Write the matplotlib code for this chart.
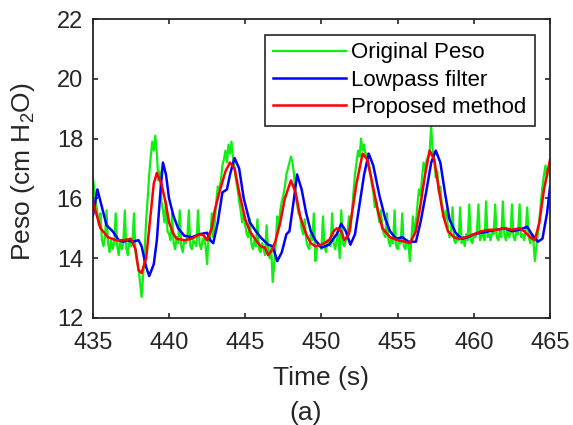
from matplotlib import pyplot as plt
import numpy as np

# Original Peso, sampled every 0.1 s from 435.0 s (one row per second)
green_start = 435.0
green_vals = [
    16.7, 16.3, 15.9, 15.5, 15.1, 15.5, 14.6, 14.4, 14.7, 15.6,  # 435
    14.5, 14.2, 14.6, 14.3, 14.5, 15.5, 14.4, 14.1, 14.6, 14.3,  # 436
    14.5, 15.6, 14.3, 14.1, 14.6, 14.4, 14.5, 15.5, 14.2, 13.9,  # 437
    13.6, 13.2, 12.7, 13.4, 14.2, 15.3, 16.0, 16.8, 17.4, 17.9,  # 438
    17.6, 18.1, 17.5, 16.6, 16.9, 15.9, 15.6, 15.2, 15.9, 14.9,  # 439
    14.8, 14.6, 15.5, 14.5, 14.3, 14.7, 14.5, 15.6, 14.4, 14.2,  # 440
    14.6, 14.5, 14.7, 15.6, 14.4, 14.3, 14.6, 14.5, 14.4, 15.6,  # 441
    14.5, 14.3, 14.6, 14.7, 14.4, 13.8, 14.8, 14.6, 15.5, 14.7,  # 442
    15.2, 15.9, 16.4, 16.3, 16.6, 17.1, 17.3, 17.6, 17.2, 17.8,  # 443
    17.5, 17.9, 17.3, 17.0, 16.6, 16.3, 15.9, 15.6, 15.2, 15.5,  # 444
    15.1, 14.8, 14.7, 15.3, 14.5, 14.3, 14.6, 14.4, 15.3, 14.3,  # 445
    14.2, 14.5, 14.3, 14.1, 15.1, 14.3, 14.0, 14.4, 13.2, 13.8,  # 446
    14.5, 15.4, 15.0, 15.6, 15.9, 16.1, 16.4, 16.8, 17.0, 17.2,  # 447
    17.4, 17.2, 16.8, 16.2, 15.8, 15.5, 15.4, 15.0, 14.8, 15.3,  # 448
    14.6, 14.4, 14.3, 14.8, 14.6, 15.5, 13.9, 14.3, 14.5, 14.4,  # 449
    14.3, 15.4, 14.4, 14.2, 14.6, 14.5, 14.4, 15.5, 14.5, 14.3,  # 450
    14.6, 14.8, 14.0, 15.6, 14.5, 14.4, 14.6, 14.7, 15.4, 14.9,  # 451
    15.5, 16.2, 16.8, 17.2, 17.6, 17.4, 18.0, 17.6, 17.8, 17.4,  # 452
    17.5, 17.2, 16.9, 16.5, 16.2, 15.7, 15.9, 15.5, 15.2, 15.6,  # 453
    15.0, 14.8, 14.7, 15.5, 14.6, 14.4, 14.7, 14.5, 15.6, 14.4,  # 454
    14.3, 14.6, 14.5, 15.5, 14.4, 14.3, 14.6, 14.5, 13.9, 14.6,  # 455
    15.4, 14.8, 15.2, 15.8, 16.3, 16.1, 16.7, 17.2, 16.9, 17.3,  # 456
    17.4, 17.6, 18.4, 17.6, 17.3, 16.7, 16.9, 16.2, 16.4, 15.8,  # 457
    15.6, 15.3, 15.6, 15.0, 14.7, 14.9, 15.7, 14.6, 14.5, 14.8,  # 458
    14.6, 15.7, 14.5, 14.7, 14.4, 14.8, 14.6, 15.8, 14.6, 14.5,  # 459
    14.8, 14.7, 14.9, 15.8, 14.6, 14.7, 14.9, 14.6, 15.9, 14.7,  # 460
    14.8, 14.6, 14.9, 14.8, 15.8, 14.7, 14.6, 14.9, 14.7, 15.9,  # 461
    14.8, 14.6, 15.0, 14.7, 14.8, 15.8, 14.7, 14.6, 14.9, 14.8,  # 462
    15.8, 14.7, 14.8, 14.6, 14.9, 15.7, 14.7, 14.5, 14.8, 14.6,  # 463
    13.9, 14.4, 14.8, 15.3, 15.9, 16.4, 16.8, 17.1, 16.7, 17.0,  # 464
    16.8,                                                        # 465
]
green_t = green_start + 0.1 * np.arange(len(green_vals))

# Lowpass filter
blue_t = [435.0, 435.3, 435.6, 435.9, 436.3, 436.7, 437.0, 437.3, 437.6, 438.0,
          438.2, 438.5, 438.7, 439.0, 439.2, 439.4, 439.6, 439.8, 440.0, 440.3,
          440.6, 441.0, 441.5, 442.0, 442.5, 442.7, 442.9, 443.2, 443.5, 443.8,
          444.0, 444.3, 444.6, 444.9, 445.3, 445.7, 446.0, 446.5, 446.8, 447.1,
          447.4, 447.7, 447.9, 448.2, 448.4, 448.7, 449.0, 449.3, 449.6, 450.0,
          450.5, 451.0, 451.3, 451.6, 451.9, 452.2, 452.5, 452.8, 453.1, 453.4,
          453.8, 454.2, 454.5, 454.9, 455.3, 455.7, 456.2, 456.5, 456.9, 457.2,
          457.5, 457.8, 458.1, 458.4, 458.8, 459.2, 459.6, 460.0, 460.5, 461.0,
          461.5, 462.0, 462.5, 463.0, 463.5, 463.8, 464.2, 464.5, 464.8, 465.0]
blue_vals = [15.4, 16.3, 15.7, 15.1, 14.9, 14.6, 14.55, 14.6, 14.55, 14.6,
             14.4, 13.7, 13.4, 13.8, 14.6, 16.0, 17.2, 16.8, 16.0, 15.4,
             15.0, 14.75, 14.7, 14.8, 14.85, 14.6, 14.5, 15.2, 16.2, 16.3,
             16.8, 17.35, 17.0, 16.0, 15.2, 14.9, 14.7, 14.45, 14.4, 13.9,
             14.2, 14.8, 14.9, 16.0, 16.8, 16.3, 15.5, 14.9, 14.6, 14.35,
             14.45, 14.8, 15.15, 14.9, 14.45, 14.8, 15.8, 16.8, 17.5, 17.1,
             16.1, 15.3, 14.9, 14.65, 14.7, 14.55, 14.55, 15.2, 16.3, 17.2,
             17.6, 17.2, 16.2, 15.3, 14.85, 14.65, 14.7, 14.8, 14.85, 14.9,
             14.95, 15.0, 14.9, 14.95, 15.05, 14.8, 14.55, 14.65, 15.5, 16.4]

# Proposed method
red_t = [435.0, 435.5, 436.0, 436.5, 437.0, 437.5, 437.8, 438.0, 438.2, 438.5,
         438.8, 439.0, 439.2, 439.5, 439.8, 440.0, 440.3, 440.5, 441.0, 441.5,
         442.0, 442.3, 442.5, 442.8, 443.0, 443.3, 443.7, 444.0, 444.3, 444.6,
         445.0, 445.3, 445.7, 446.0, 446.3, 446.5, 446.8, 447.0, 447.3, 447.6,
         448.0, 448.3, 448.6, 449.0, 449.3, 449.6, 450.0, 450.5, 450.8, 451.0,
         451.3, 451.5, 451.8, 452.0, 452.3, 452.7, 453.0, 453.3, 453.7, 454.0,
         454.5, 455.0, 455.5, 455.8, 456.2, 456.5, 456.8, 457.1, 457.4, 457.7,
         458.0, 458.3, 458.7, 459.0, 459.5, 460.0, 460.5, 461.0, 461.5, 462.0,
         462.5, 463.0, 463.3, 463.7, 464.0, 464.3, 464.6, 465.0]
red_vals = [15.9, 15.0, 14.7, 14.6, 14.6, 14.65, 14.3, 13.6, 13.5, 14.0,
            15.5, 16.5, 16.85, 16.5, 15.8, 15.2, 14.8, 14.65, 14.6, 14.65,
            14.8, 14.75, 14.6, 15.0, 15.6, 16.2, 16.9, 17.2, 17.0, 16.2,
            15.3, 14.9, 14.6, 14.4, 14.35, 14.1, 14.3, 14.6, 15.2, 16.0,
            16.6, 16.2, 15.4, 14.8, 14.5, 14.4, 14.45, 14.6, 14.9, 15.0,
            14.9, 14.6, 14.8, 15.5, 16.5, 17.5, 17.3, 16.6, 15.6, 15.0,
            14.7, 14.6, 14.55, 14.5, 14.9, 15.8, 16.8, 17.6, 17.3, 16.3,
            15.4, 14.9, 14.7, 14.65, 14.7, 14.8, 14.9, 14.95, 14.95, 15.0,
            14.95, 15.0, 14.9, 14.7, 14.6, 15.2, 16.3, 17.3]

plt.rcParams['font.family'] = ['Liberation Sans', 'DejaVu Sans']
plt.rcParams['mathtext.default'] = 'regular'
dark = '#262626'

fig = plt.figure(figsize=(5.73, 4.25), dpi=100)
ax = fig.add_axes([0.162, 0.252, 0.798, 0.703])

ax.plot(green_t, green_vals, color='#11ee11', lw=1.6, label='Original Peso')
ax.plot(blue_t, blue_vals, color='#0000ff', lw=1.8, label='Lowpass filter')
ax.plot(red_t, red_vals, color='#ff0000', lw=1.8, label='Proposed method')

ax.set_xlim(435, 465)
ax.set_ylim(12, 22)
ax.set_xticks(np.arange(435, 466, 5))
ax.set_yticks(np.arange(12, 23, 2))
ax.tick_params(direction='in', top=True, right=True, labelsize=17,
               length=3.5, width=1.2, colors=dark)
ax.tick_params(axis='x', pad=10)
ax.tick_params(axis='y', pad=7)
for s in ax.spines.values():
    s.set_linewidth(1.3)
    s.set_color(dark)

# axis titles and panel tag
fig.text(0.561, 0.094, 'Time (s)', fontsize=19, color=dark, ha='center', va='baseline')
fig.text(0.040, 0.596, 'Peso (cm H$_2$O)', fontsize=19, color=dark,
         rotation=90, ha='center', va='center')
fig.text(0.534, 0.012, '(a)', fontsize=19, color=dark, ha='center', va='baseline')

leg = ax.legend(loc='upper right', fontsize=16, handlelength=3.3,
                fancybox=False, framealpha=1, edgecolor=dark,
                borderaxespad=0.7, labelspacing=0.28, handletextpad=0.25,
                borderpad=0.35)
leg.get_frame().set_linewidth(1.2)

plt.savefig('out.png', dpi=100)
